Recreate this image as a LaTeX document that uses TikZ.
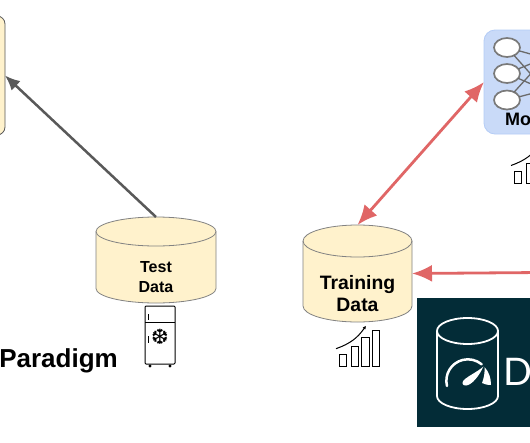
\documentclass[tikz,border=0pt]{standalone}
\usepackage{fontspec}
\setmainfont{Liberation Sans}
\newfontfamily\symbolfont{DejaVu Sans}
\newfontfamily\logofont{Lato}
\usepackage{xcolor}
\definecolor{cream}{HTML}{FFF2CC}
\definecolor{slate}{HTML}{595959}
\definecolor{coral}{HTML}{E06666}
\definecolor{bluefill}{HTML}{C9DAF8}
\definecolor{blueedge}{HTML}{B4CCF6}
\definecolor{petrol}{HTML}{032C37}
\usetikzlibrary{arrows.meta,shapes.geometric}
\tikzset{
    store/.style={rectangle, inner sep=0pt, outer sep=0pt},
    storeline/.style={draw=slate!75, fill=cream, line width=0.8pt},
    logoline/.style={draw=white, line width=1.8pt},
    storelabel/.style={align=center, inner sep=0pt},
    graybox/.style={draw=slate, fill=cream, rounded corners=8pt, line width=0.8pt, outer sep=0pt},
    modelbox/.style={draw=blueedge, fill=bluefill, rounded corners=11pt, line width=0.8pt, outer sep=0pt},
    neuron/.style={ellipse, draw=slate!80, fill=white, line width=1.7pt, minimum width=26pt, minimum height=19pt, inner sep=0pt, outer sep=0pt},
    synapse/.style={draw=slate!90, line width=1.3pt},
    arrow/.style={-{Latex[length=15pt,width=13pt]}, line width=2.5pt, slate},
    biarrow/.style={{Latex[length=20pt,width=17pt]}-{Latex[length=20pt,width=17pt]}, line width=2.8pt, coral},
    inarrow/.style={-{Latex[length=20pt,width=17pt]}, line width=2.8pt, coral},
    iconline/.style={draw=black, line width=1pt},
    pics/growthbars/.style={code={
      \foreach \xa/\ya in {0/12, 12/20, 22.5/29, 33/36}{
        \draw[iconline] (\xa,0) rectangle (\xa+7.5,-\ya);
      }
      \draw[iconline, -{Latex[length=3.5pt,width=3.5pt]}] (-3,-18) to[bend right=18] (27,-41);
    }}
}
% outline of a drum over a named node: name, x radius, y radius, style
\newcommand{\drumshape}[4]{
  \draw[#4] ([yshift=-#3pt]#1.north west) -- ([yshift=#3pt]#1.south west)
    arc[start angle=180, end angle=360, x radius=#2pt, y radius=#3pt]
    -- ([yshift=-#3pt]#1.north east)
    arc[start angle=0, end angle=180, x radius=#2pt, y radius=#3pt] -- cycle;
  \draw[#4, fill=none] ([yshift=-#3pt]#1.north west)
    arc[start angle=180, end angle=360, x radius=#2pt, y radius=#3pt];
}

\begin{document}
\begin{tikzpicture}[x=1pt, y=-1pt]
  \useasboundingbox (0,0) rectangle (530,442);
  \clip (0,0) rectangle (530,442);
  \fill[white] (0,0) rectangle (530,442);

  % Stores and boxes
  \node[graybox, minimum width=70pt, minimum height=119pt] (evalbox) at (-30,75.5) {};
  \node[store, minimum width=120pt, minimum height=86pt] (testdata) at (156,260) {};
  \drumshape{testdata}{60}{14.5}{storeline}
  \node[storelabel, font=\bfseries\fontsize{16}{20}\selectfont] (testlabel) at (156,277) {Test\\Data};
  \node[store, minimum width=109pt, minimum height=97pt] (trainingdata) at (357.5,273.5) {};
  \drumshape{trainingdata}{54.5}{16}{storeline}
  \node[storelabel, font=\bfseries\fontsize{19.4}{21.5}\selectfont] (traininglabel) at (357.5,293.5) {Training\\Data};
  \node[modelbox, minimum width=94pt, minimum height=104pt] (modelbox) at (531,82) {};

  % Network inside the model
  \node[neuron] (neurona) at (507,47.5) {};
  \node[neuron] (neuronb) at (507,73.5) {};
  \node[neuron] (neuronc) at (507,100) {};
  \coordinate (hiddena) at (545,58);
  \coordinate (hiddenb) at (545,90);
  \foreach \n in {neurona,neuronb,neuronc}{
    \draw[synapse] (\n) -- (hiddena);
    \draw[synapse] (\n) -- (hiddenb);
  }
  \node[font=\bfseries\fontsize{18}{20}\selectfont, inner sep=0pt] (modellabel) at (531,119) {Model};

  % Dashboard logo
  \node[fill=petrol, minimum width=114pt, minimum height=129pt, outer sep=0pt, anchor=north west] (logobox) at (417,298) {};
  \node[store, minimum width=61pt, minimum height=91pt] (logostore) at (467.5,363.5) {};
  \drumshape{logostore}{30.5}{13}{logoline}
  \draw[white, line width=2.5pt, line cap=round] (447,386) arc[start angle=194, end angle=50, radius=21.5pt];
  \fill[white] (483.5,366.5) .. controls (477,372) and (470,375) .. (465,379) .. controls (461,382) and (462,386) .. (466,385.5) .. controls (472,385) and (479,376) .. (483.5,366.5);
  \fill[white] (484.5,367) .. controls (489,372) and (491,378) .. (491,385) .. controls (487,385) and (484,384) .. (482,383) .. controls (484,378) and (485,372) .. (484.5,367);
  \node[white, font=\logofont\fontsize{38}{38}\selectfont, anchor=base west, inner sep=0pt] (logotext) at (503,385) {D};

  % Title
  \node[font=\bfseries\fontsize{26}{30}\selectfont, anchor=base east, inner sep=0pt] (paradigm) at (118,367) {Paradigm};

  % Fridge
  \draw[iconline, rounded corners=1pt, fill=white] (145,306) rectangle (175,364);
  \draw[iconline] (145,322) -- (175,322);
  \draw[iconline] (148,314) -- (148,320);
  \draw[iconline] (148,336) -- (148,343);
  \fill[black] (150,366) circle (1.7pt);
  \fill[black] (170,366) circle (1.7pt);
  \node[font=\symbolfont\fontsize{21}{21}\selectfont, inner sep=0pt] (snowflake) at (160,337) {\char"2746};

  % Growth icons
  \pic at (339,366.7) {growthbars};
  \pic at (514,183.5) {growthbars};

  % Connecting arrows
  \coordinate (rightedge) at (540,272.5);
  \draw[arrow] (testdata.north) -- (evalbox.east);
  \draw[biarrow] (modelbox.west) -- (trainingdata.north);
  \draw[inarrow] (rightedge) -- (trainingdata.east);
\end{tikzpicture}
\end{document}
